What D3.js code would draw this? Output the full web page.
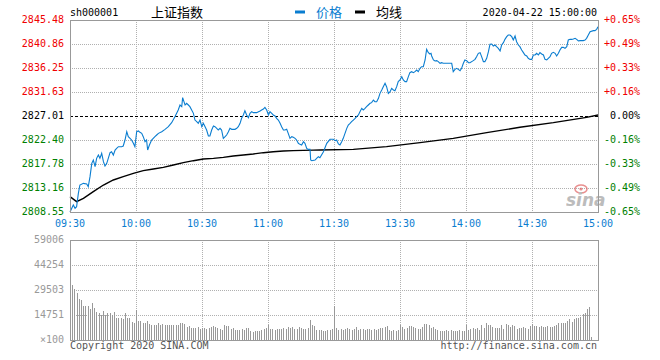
<!DOCTYPE html>
<html><head><meta charset="utf-8">
<script src="https://cdn.jsdelivr.net/npm/d3@7/dist/d3.min.js"></script>
<style>
html,body{margin:0;padding:0;background:#fff;}
svg{display:block;}
text{font-family:"DejaVu Sans Mono","Liberation Mono",monospace;font-size:10px;}
</style>
</head><body><svg id="c" width="660" height="360"></svg>
<script>
// ---------- data ----------
const symbol = "sh000001";
const title = "上证指数";
const dateLabel = "2020-04-22 15:00:00";
const legendLabels = ["价格", "均线"];
const prevClose = 2827.01;
const timeTicks = [0, 30, 60, 90, 120, 150, 180, 210, 240];
const timeLabels = ["09:30","10:00","10:30","11:00","11:30","13:30","14:00","14:30","15:00"];
const priceTicks = [2808.55, 2813.16, 2817.78, 2822.40, 2827.01, 2831.63, 2836.25, 2840.86, 2845.48];
const pctLabels = ["-0.65%","-0.49%","-0.33%","-0.16%","0.00%","+0.16%","+0.33%","+0.49%","+0.65%"];
const volTicks = [0, 14751, 29503, 44254, 59006];
const volLabels = ["×100","14751","29503","44254","59006"];
const copyright = "Copyright 2020 SINA.COM";
const siteUrl = "http://finance.sina.com.cn";

// price line: [minute index, price]
const pricePts = [[0,2808.55],[1.5,2809.90],[2.3,2809.26],[3,2809.58],[3.8,2812.14],[4.5,2813.74],[6.1,2814.06],[7.6,2813.94],[8.3,2813.42],[9.1,2815.35],[9.9,2817.91],[10.6,2818.55],[11.4,2817.27],[12.1,2818.87],[12.9,2819.51],[13.6,2818.87],[14.4,2819.83],[15.2,2818.23],[15.9,2817.40],[16.7,2817.91],[17.4,2818.87],[18.2,2819.96],[18.9,2820.15],[19.7,2819.51],[20.5,2820.47],[21.2,2820.79],[22,2821.11],[23.5,2821.11],[24.2,2821.24],[25,2822.40],[25.8,2824.00],[26.5,2823.04],[27.3,2822.72],[28,2822.40],[28.8,2821.76],[29.5,2821.11],[30.3,2824.00],[31.1,2824.13],[31.8,2823.87],[32.6,2823.68],[33.3,2823.04],[34.1,2822.08],[34.8,2822.40],[35.3,2820.47],[36.1,2821.44],[37.1,2822.40],[38.6,2823.04],[39.4,2823.36],[40.2,2823.68],[41.7,2824.00],[43.2,2824.45],[44.7,2824.96],[46.2,2825.73],[47.7,2826.89],[49.2,2828.17],[50,2829.13],[50.8,2828.81],[51.2,2830.54],[51.8,2829.77],[52.3,2829.13],[53,2829.45],[53.8,2829.13],[54.5,2828.81],[55.3,2828.17],[56.1,2827.53],[56.8,2826.24],[57.6,2825.92],[58.3,2825.60],[59.1,2826.24],[59.9,2824.96],[60.6,2825.60],[61.4,2824.96],[62.1,2824.32],[62.9,2823.17],[63.6,2823.17],[64.4,2824.32],[65.2,2825.09],[65.9,2824.96],[66.7,2824.64],[67.4,2824.32],[68.2,2824.64],[68.9,2824.32],[69.7,2822.72],[70.5,2823.04],[71.2,2823.36],[72,2824.00],[72.7,2824.64],[73.5,2824.45],[75,2824.45],[75.8,2824.64],[76.5,2824.96],[77.3,2825.60],[78,2826.57],[78.8,2827.21],[79.5,2828.04],[80.3,2827.21],[81.1,2826.69],[81.8,2827.53],[82.6,2827.85],[83.3,2827.66],[84.8,2827.66],[86.4,2827.98],[87.1,2828.17],[87.9,2828.36],[88.6,2828.68],[89.4,2828.17],[90.2,2827.21],[90.9,2827.85],[91.7,2827.53],[92.4,2827.21],[93.2,2827.01],[93.9,2826.57],[94.7,2826.24],[95.5,2825.60],[96.2,2824.96],[97,2824.32],[97.7,2824.32],[98.5,2824.45],[99.2,2823.68],[100,2822.72],[100.8,2823.04],[101.5,2822.91],[102.3,2822.72],[103,2822.40],[103.8,2821.76],[104.5,2821.56],[105.3,2821.44],[106.1,2822.08],[106.8,2821.76],[107.6,2820.79],[108.3,2820.60],[109.1,2820.60],[109.4,2818.55],[109.9,2818.42],[111.4,2818.55],[112.1,2818.87],[112.9,2819.19],[113.6,2819.00],[115.2,2820.15],[116.7,2821.76],[118.2,2822.53],[119.7,2822.53],[120.5,2822.27],[121.2,2822.40],[122,2821.63],[122.7,2821.44],[123.5,2822.08],[124.2,2822.72],[125,2823.68],[125.8,2824.64],[126.5,2825.28],[127.3,2825.60],[128,2825.92],[128.8,2826.24],[129.6,2826.57],[130.3,2826.89],[131.1,2827.21],[131.8,2827.85],[132.6,2828.49],[133.3,2828.17],[134.1,2828.49],[134.8,2828.81],[135.6,2829.13],[136.4,2829.45],[137.1,2829.58],[137.9,2830.09],[138.6,2829.77],[139.4,2829.77],[140.2,2830.41],[140.9,2831.37],[141.7,2832.02],[142.4,2832.66],[143.2,2833.30],[143.9,2832.66],[144.7,2831.37],[145.5,2831.69],[146.2,2832.34],[147,2832.02],[147.7,2831.89],[148.5,2832.66],[149.2,2833.62],[150,2833.94],[150.8,2834.58],[151.5,2833.94],[152.3,2833.62],[153,2833.62],[153.8,2834.58],[154.5,2835.35],[155.3,2835.54],[156.1,2835.35],[156.8,2835.54],[157.6,2835.86],[158.3,2835.54],[159.1,2836.18],[159.8,2836.50],[160.6,2836.50],[161.4,2837.79],[162.1,2839.84],[162.9,2839.20],[163.6,2838.94],[164.1,2839.07],[164.4,2838.56],[165.2,2837.79],[165.9,2837.59],[166.7,2837.66],[167.4,2837.47],[168.2,2837.15],[168.9,2837.27],[169.7,2837.15],[173.5,2837.15],[174.2,2835.54],[175,2835.99],[175.8,2836.18],[176.5,2835.99],[177.3,2835.73],[178,2836.18],[178.8,2837.15],[179.5,2837.79],[180.3,2837.66],[181.1,2837.27],[181.8,2837.27],[183.3,2837.66],[184.1,2837.91],[184.8,2838.43],[185.6,2839.07],[186.4,2839.20],[187.1,2838.43],[187.9,2837.47],[188.6,2837.47],[189.4,2838.11],[190.2,2839.39],[190.9,2840.80],[191.7,2840.86],[192.4,2840.48],[193.2,2840.67],[193.9,2840.35],[194.7,2840.03],[195.5,2839.52],[196.2,2840.67],[197,2841.12],[197.7,2841.76],[198.5,2842.27],[199.2,2842.59],[200,2842.59],[200.8,2842.27],[201.5,2841.63],[202.3,2842.40],[203,2841.31],[203.8,2840.67],[204.5,2840.35],[205.3,2839.71],[206.1,2839.20],[206.8,2838.75],[207.6,2838.56],[208.3,2838.11],[209.1,2837.91],[209.9,2837.91],[210.6,2838.75],[211.4,2838.75],[212.1,2839.07],[212.9,2838.75],[213.6,2839.20],[214.4,2838.94],[215.2,2838.75],[215.9,2837.91],[216.7,2837.79],[217.4,2838.11],[218.2,2838.43],[218.9,2839.07],[219.7,2839.26],[220.5,2839.07],[221.2,2838.56],[222,2839.07],[222.7,2839.71],[223.5,2840.22],[224.2,2840.22],[225,2840.03],[225.8,2840.35],[226.5,2841.63],[227.3,2841.76],[228,2841.76],[228.8,2841.83],[229.6,2841.95],[230.3,2841.76],[231.1,2841.44],[231.8,2841.51],[233.3,2841.51],[234.1,2841.63],[234.8,2841.95],[235.6,2842.59],[236.4,2843.24],[237.9,2843.43],[238.6,2843.43],[239.4,2843.68],[240,2844.20]];

// average price line: [minute index, price]
const avgPts = [[0,2811.50],[3,2810.54],[6.1,2811.18],[10.6,2812.46],[15.2,2813.74],[19.7,2814.71],[24.2,2815.35],[28.8,2815.99],[33.3,2816.50],[37.9,2816.82],[42.4,2817.14],[47,2817.59],[51.5,2818.04],[56.1,2818.42],[60.6,2818.74],[65.2,2818.87],[69.7,2819.06],[74.2,2819.32],[78.8,2819.51],[83.3,2819.71],[87.9,2819.96],[92.4,2820.15],[97,2820.28],[101.5,2820.35],[106.1,2820.40],[110.6,2820.45],[113.6,2820.47],[128.8,2820.60],[143.9,2821.12],[159.1,2821.89],[174.2,2822.72],[189.4,2823.81],[204.5,2824.84],[219.7,2825.73],[234.8,2826.76],[240,2827.21]];

// volume per minute (×100)
const volumes = [59006,
32454,29897,27537,23996,23603,20062,20062,20062,18292,21833,
18882,16522,15932,14752,17112,14752,15932,15932,14752,16522,
12982,12982,12982,12391,15932,12982,12982,10621,10031,17702,
11211,11211,10031,10031,11211,9441,8851,8851,8851,10031,
8851,9441,8851,8851,8851,8851,8851,8851,8851,10031,
10031,9441,7671,8261,7081,7081,7081,7671,6491,7081,
7081,6491,7081,7671,8261,7671,7081,6491,5901,8851,
8261,8261,6491,7081,5901,5901,5901,6491,5901,7081,
7081,5311,4721,5311,5311,5311,5901,6491,7081,8851,
6491,6491,5901,6491,6491,6491,7081,6491,7671,7081,
7671,6491,6491,7671,7081,6491,6491,7081,11801,8851,
8261,5901,5901,5901,5311,5311,5901,5901,6491,20062,
7081,5901,6491,5901,6491,7081,6491,5901,6491,7671,
5901,6491,6491,5901,6491,6491,5901,6491,5901,6491,
7081,7081,7671,8261,5901,5311,5901,5311,5901,8851,
7671,6491,7081,8261,8261,7671,7081,6491,6491,7671,
9441,9441,8851,7081,7671,6491,5901,5311,5311,5311,
5901,5311,5901,5311,5311,5311,5901,5311,5311,8851,
6097,6687,7081,6687,7081,5901,9048,6884,10031,8851,
8851,7868,7278,7081,7081,8654,6687,9244,9048,7868,
8654,8261,6491,6884,7278,7474,6884,6491,8064,9244,
8458,8458,7868,8261,7868,7868,8064,7868,7868,8261,
8851,9834,9834,10228,10228,11408,12195,10818,12195,12785,
12982,13375,15145,15735,18292,19276,1574,0,0,0];

// ---------- drawing ----------
const svg = d3.select("#c");
svg.append("rect").attr("width",660).attr("height",360).attr("fill","#fff");

const L = 70, R = 598, T = 20, B = 212, VT = 240, VB = 340;
const x = d3.scaleLinear().domain([0,240]).range([L,R]);
const y = d3.scaleLinear().domain([priceTicks[0], priceTicks[priceTicks.length-1]]).range([B,T]);
const yv = d3.scaleLinear().domain([0, 59006]).range([VB,VT]);

const gridCol = "#b0b0b0", frameCol = "#999";
const blue = "#0a7dd0", red = "#f00000", green = "#008000";

// main grid
const g = svg.append("g").attr("shape-rendering","crispEdges");
priceTicks.slice(1,-1).forEach(p=>{
  if (p === prevClose) return;
  g.append("line").attr("x1",L).attr("x2",R).attr("y1",Math.round(y(p))+0.5).attr("y2",Math.round(y(p))+0.5)
    .attr("stroke",gridCol).attr("stroke-dasharray","1,1");
});
timeTicks.slice(1,-1).forEach(t=>{
  g.append("line").attr("x1",Math.round(x(t))+0.5).attr("x2",Math.round(x(t))+0.5).attr("y1",T).attr("y2",B)
    .attr("stroke",gridCol).attr("stroke-dasharray","1,1");
});
// volume grid
volTicks.slice(1,-1).forEach(v=>{
  g.append("line").attr("x1",L).attr("x2",R).attr("y1",Math.round(yv(v))+0.5).attr("y2",Math.round(yv(v))+0.5)
    .attr("stroke",gridCol).attr("stroke-dasharray","1,1");
});
timeTicks.slice(1,-1).forEach(t=>{
  g.append("line").attr("x1",Math.round(x(t))+0.5).attr("x2",Math.round(x(t))+0.5).attr("y1",VT).attr("y2",VB)
    .attr("stroke",gridCol).attr("stroke-dasharray","1,1");
});

// volume bars
svg.append("g").attr("shape-rendering","crispEdges").selectAll("rect").data(volumes).join("rect")
  .attr("x",(d,i)=>Math.round(x(i)))
  .attr("width",1)
  .attr("y",d=>yv(Math.min(d,59006)))
  .attr("height",d=>VB - yv(Math.min(d,59006)))
  .attr("fill","#999");

// sina watermark
const wm = svg.append("g").attr("opacity",0.7);
wm.append("ellipse").attr("cx",581).attr("cy",189).attr("rx",6).attr("ry",4).attr("fill","none").attr("stroke","#e06060").attr("stroke-width",1.5);
wm.append("circle").attr("cx",581).attr("cy",189).attr("r",1.6).attr("fill","#e06060");
wm.append("text").attr("x",566).attr("y",206).text("sina")
  .style("font-family","'DejaVu Sans',sans-serif").style("font-size","17px").style("font-style","italic").style("font-weight","bold")
  .attr("fill","#a0a0a0");

// prev close dashed line
svg.append("line").attr("shape-rendering","crispEdges")
  .attr("x1",L).attr("x2",R).attr("y1",Math.round(y(prevClose))+0.5).attr("y2",Math.round(y(prevClose))+0.5)
  .attr("stroke","#000").attr("stroke-dasharray","3,2");

// avg line
svg.append("path").datum(avgPts)
  .attr("d", d3.line().x(d=>x(d[0])).y(d=>y(d[1])))
  .attr("fill","none").attr("stroke","#000").attr("stroke-width",1.4);

// price line
svg.append("path").datum(pricePts)
  .attr("d", d3.line().x(d=>x(d[0])).y(d=>y(d[1])))
  .attr("fill","none").attr("stroke",blue).attr("stroke-width",1.1);

// frames
const fr = svg.append("g").attr("shape-rendering","crispEdges").attr("fill","none").attr("stroke",frameCol);
fr.append("rect").attr("x",L+0.5).attr("y",T+0.5).attr("width",R-L).attr("height",B-T);
fr.append("rect").attr("x",L+0.5).attr("y",VT+0.5).attr("width",R-L).attr("height",VB-VT);

// left price labels
priceTicks.forEach((p,i)=>{
  const col = i < 4 ? green : (i === 4 ? "#000" : red);
  svg.append("text").attr("x",64).attr("y",y(p)).attr("text-anchor","end").attr("dominant-baseline","middle")
    .attr("fill",col).text(p.toFixed(2));
  svg.append("text").attr("x",640).attr("y",y(p)).attr("text-anchor","end").attr("dominant-baseline","middle")
    .attr("fill",col).text(pctLabels[i]);
});

// time labels
timeTicks.forEach((t,i)=>{
  svg.append("text").attr("x",x(t)).attr("y",224).attr("text-anchor","middle").attr("dominant-baseline","middle")
    .attr("fill",blue).text(timeLabels[i]);
});

// volume labels
volTicks.forEach((v,i)=>{
  svg.append("text").attr("x",64).attr("y",yv(v)).attr("text-anchor","end").attr("dominant-baseline","middle")
    .attr("fill","#999").text(volLabels[i]);
});

// header
svg.append("text").attr("x",70).attr("y",13).attr("dominant-baseline","middle").attr("fill","#000").text(symbol);
svg.append("text").attr("x",151).attr("y",13).attr("dominant-baseline","middle").attr("fill","#000")
  .style("font-family","'Noto Sans CJK SC',sans-serif").style("font-size","13px").text(title);
svg.append("rect").attr("x",295).attr("y",10.5).attr("width",10).attr("height",3).attr("fill",blue);
svg.append("text").attr("x",316).attr("y",13).attr("dominant-baseline","middle").attr("fill",blue)
  .style("font-family","'Noto Sans CJK SC',sans-serif").style("font-size","13px").text(legendLabels[0]);
svg.append("rect").attr("x",355).attr("y",10.5).attr("width",10).attr("height",3).attr("fill","#000");
svg.append("text").attr("x",376).attr("y",13).attr("dominant-baseline","middle").attr("fill","#000")
  .style("font-family","'Noto Sans CJK SC',sans-serif").style("font-size","13px").text(legendLabels[1]);
svg.append("text").attr("x",597).attr("y",13).attr("text-anchor","end").attr("dominant-baseline","middle")
  .attr("fill","#000").text(dateLabel);

// footer
svg.append("text").attr("x",70).attr("y",346).attr("dominant-baseline","middle").attr("fill","#555").text(copyright);
svg.append("text").attr("x",597).attr("y",346).attr("text-anchor","end").attr("dominant-baseline","middle").attr("fill","#555").text(siteUrl);
</script>
</body></html>
